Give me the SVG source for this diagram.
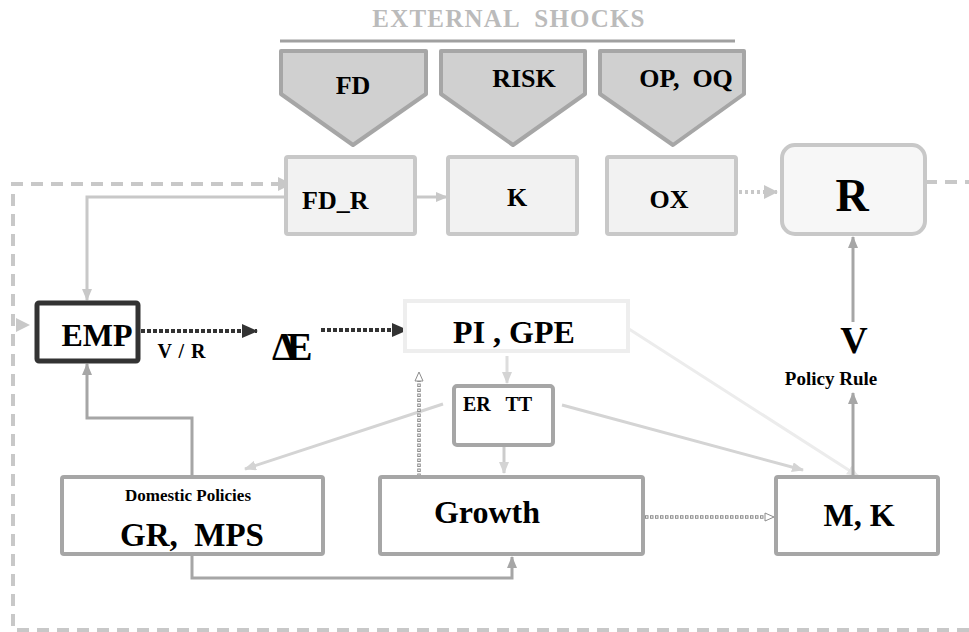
<svg xmlns="http://www.w3.org/2000/svg" width="969" height="632" viewBox="0 0 969 632">
<style>
text{font-family:"Liberation Serif","Times New Roman",serif;font-weight:bold;fill:#000}
.shock{fill:#d0d0d0;stroke:#a6a6a6;stroke-width:4;stroke-linejoin:round}
.lb{fill:#f2f2f2;stroke:#c8c8c8;stroke-width:4}
.gb{fill:#fff;stroke:#a6a6a6;stroke-width:4}
.c{fill:none}
.loop{fill:none;stroke:#c8c8c8;stroke-width:4;stroke-dasharray:12 8}
.dark{fill:none;stroke:#333;stroke-width:4;stroke-dasharray:4 2}
.sq1{fill:none;stroke:#8c8c8c;stroke-width:3.5;stroke-dasharray:3.5 1.5}
.sq2{fill:none;stroke:#fff;stroke-width:1.5;stroke-dasharray:1.5 3.5;stroke-dashoffset:-1}
</style>
<defs>
<marker id="aL" markerUnits="userSpaceOnUse" markerWidth="12" markerHeight="10" refX="11" refY="5" orient="auto"><path d="M0,0 L12,5 L0,10 z" fill="#c8c8c8"/></marker>
<marker id="aLL" markerUnits="userSpaceOnUse" markerWidth="14" markerHeight="14" refX="13" refY="7" orient="auto"><path d="M0,0 L14,7 L0,14 z" fill="#c8c8c8"/></marker>
<marker id="aE" markerUnits="userSpaceOnUse" markerWidth="12" markerHeight="10" refX="11" refY="5" orient="auto"><path d="M0,0 L12,5 L0,10 z" fill="#e6e6e6"/></marker>
<marker id="aD" markerUnits="userSpaceOnUse" markerWidth="12" markerHeight="10" refX="11" refY="5" orient="auto"><path d="M0,0 L12,5 L0,10 z" fill="#d4d4d4"/></marker>
<marker id="aG" markerUnits="userSpaceOnUse" markerWidth="12" markerHeight="10" refX="11" refY="5" orient="auto"><path d="M0,0 L12,5 L0,10 z" fill="#a6a6a6"/></marker>
<marker id="aK" markerUnits="userSpaceOnUse" markerWidth="16" markerHeight="14" refX="15" refY="7" orient="auto"><path d="M0,0 L16,7 L0,14 z" fill="#333"/></marker>
<marker id="aH" markerUnits="userSpaceOnUse" markerWidth="11" markerHeight="10" refX="10" refY="5" orient="auto"><path d="M1,1 L10,5 L1,9 z" fill="#fff" stroke="#8c8c8c" stroke-width="1"/></marker>
</defs>

<g id="header">
<text x="509" y="27" text-anchor="middle" font-size="25" letter-spacing="1.2" style="fill:#bbbbbb;white-space:pre">EXTERNAL  SHOCKS</text>
<line x1="280" y1="41" x2="735" y2="41" stroke="#a0a0a0" stroke-width="3"/>
</g>

<g id="shock-fd">
<path class="shock" d="M281,51 H426 V94 L353,145 L281,94 Z"/>
<text x="353" y="94" text-anchor="middle" font-size="26">FD</text>
</g>
<g id="shock-risk">
<path class="shock" d="M441,51 H585 V94 L513,145 L441,94 Z"/>
<text x="524" y="87" text-anchor="middle" font-size="26">RISK</text>
</g>
<g id="shock-opoq">
<path class="shock" d="M600,51 H744 V94 L673,145 L600,94 Z"/>
<text x="686" y="87" text-anchor="middle" font-size="26" style="white-space:pre">OP,  OQ</text>
</g>

<g id="connectors">
<path class="loop" d="M969,630 H13 V184 H291" marker-end="url(#aLL)"/>
<line class="loop" x1="925" y1="182" x2="969" y2="182"/>
<path d="M16,318 L30,325 L16,332 z" fill="#c8c8c8"/>
<line x1="415" y1="197" x2="447" y2="197" stroke="#c8c8c8" stroke-width="3" marker-end="url(#aL)"/>
<line x1="739" y1="192" x2="777" y2="192" stroke="#c8c8c8" stroke-width="4" stroke-dasharray="3 3" marker-end="url(#aLL)"/>
<path class="c" d="M286,197 H87 V300" stroke="#c8c8c8" stroke-width="3" marker-end="url(#aL)"/>
<line class="dark" x1="141" y1="331" x2="257" y2="331" marker-end="url(#aK)"/>
<line class="dark" x1="321" y1="330" x2="407" y2="330" marker-end="url(#aK)"/>
<line x1="507" y1="356" x2="507" y2="383" stroke="#dddddd" stroke-width="3" marker-end="url(#aD)"/>
<line x1="504" y1="447" x2="504" y2="473" stroke="#cccccc" stroke-width="3" marker-end="url(#aD)"/>
<line x1="443" y1="404" x2="245" y2="469" stroke="#d4d4d4" stroke-width="3" marker-end="url(#aD)"/>
<line x1="562" y1="405" x2="803" y2="470" stroke="#d4d4d4" stroke-width="3" marker-end="url(#aD)"/>
<line x1="629" y1="329" x2="858" y2="476" stroke="#ececec" stroke-width="3" marker-end="url(#aE)"/>
<line class="sq1" x1="419" y1="477" x2="419" y2="380"/>
<line class="sq2" x1="419" y1="477" x2="419" y2="380"/>
<line x1="419" y1="382" x2="419" y2="372" stroke="none" marker-end="url(#aH)"/>
<line class="sq1" x1="645" y1="517" x2="764" y2="517"/>
<line class="sq2" x1="645" y1="517" x2="764" y2="517"/>
<line x1="764" y1="517" x2="774" y2="517" stroke="none" marker-end="url(#aH)"/>
<line x1="853" y1="477" x2="853" y2="393" stroke="#a6a6a6" stroke-width="3" marker-end="url(#aG)"/>
<line x1="853" y1="322" x2="853" y2="237" stroke="#a6a6a6" stroke-width="3" marker-end="url(#aG)"/>
<path class="c" d="M192,477 V418 H87 V364" stroke="#a6a6a6" stroke-width="3" marker-end="url(#aG)"/>
<path class="c" d="M192,554 V578 H512 V557" stroke="#a6a6a6" stroke-width="3" marker-end="url(#aG)"/>
</g>

<g id="node-fdr">
<rect class="lb" x="286" y="157" width="129" height="77" rx="2"/>
<text x="302" y="209" font-size="26">FD_R</text>
</g>
<g id="node-k">
<rect class="lb" x="448" y="157" width="129" height="77" rx="2"/>
<text x="517" y="206" text-anchor="middle" font-size="26">K</text>
</g>
<g id="node-ox">
<rect class="lb" x="607" y="157" width="129" height="77" rx="2"/>
<text x="669" y="208" text-anchor="middle" font-size="26">OX</text>
</g>
<g id="node-r">
<rect x="782" y="145" width="143" height="89" rx="13" fill="#f7f7f7" stroke="#c8c8c8" stroke-width="4"/>
<text x="852" y="211" text-anchor="middle" font-size="46">R</text>
</g>

<g id="node-emp">
<rect x="37" y="303" width="101" height="58" rx="2" fill="#fff" stroke="#333" stroke-width="5"/>
<text x="97" y="346" text-anchor="middle" font-size="32">EMP</text>
</g>
<g id="label-vr">
<text x="182" y="358" text-anchor="middle" font-size="20" letter-spacing="1" style="white-space:pre">V / R</text>
</g>
<g id="node-de">
<text x="272" y="360" font-size="39" letter-spacing="-10">ΔE</text>
</g>
<g id="node-pi">
<rect x="405" y="301" width="223" height="50" fill="#fff" stroke="#eeeeee" stroke-width="4"/>
<text x="514" y="343" text-anchor="middle" font-size="32">PI , GPE</text>
</g>
<g id="node-ertt">
<rect x="454" y="386" width="99" height="59" rx="3" fill="#fff" stroke="#a6a6a6" stroke-width="4"/>
<text x="463" y="411" font-size="20" style="white-space:pre">ER   TT</text>
</g>
<g id="node-v">
<text x="854" y="353" text-anchor="middle" font-size="38">V</text>
<text x="831" y="385" text-anchor="middle" font-size="19">Policy Rule</text>
</g>

<g id="node-domestic">
<rect class="gb" x="62" y="477" width="261" height="77" rx="2"/>
<text x="188" y="501" text-anchor="middle" font-size="17">Domestic Policies</text>
<text x="192" y="546" text-anchor="middle" font-size="33" style="white-space:pre">GR,  MPS</text>
</g>
<g id="node-growth">
<rect class="gb" x="380" y="477" width="263" height="77" rx="2"/>
<text x="487" y="523" text-anchor="middle" font-size="32">Growth</text>
</g>
<g id="node-mk">
<rect class="gb" x="776" y="477" width="162" height="77" rx="2"/>
<text x="859" y="526" text-anchor="middle" font-size="32">M, K</text>
</g>
</svg>
